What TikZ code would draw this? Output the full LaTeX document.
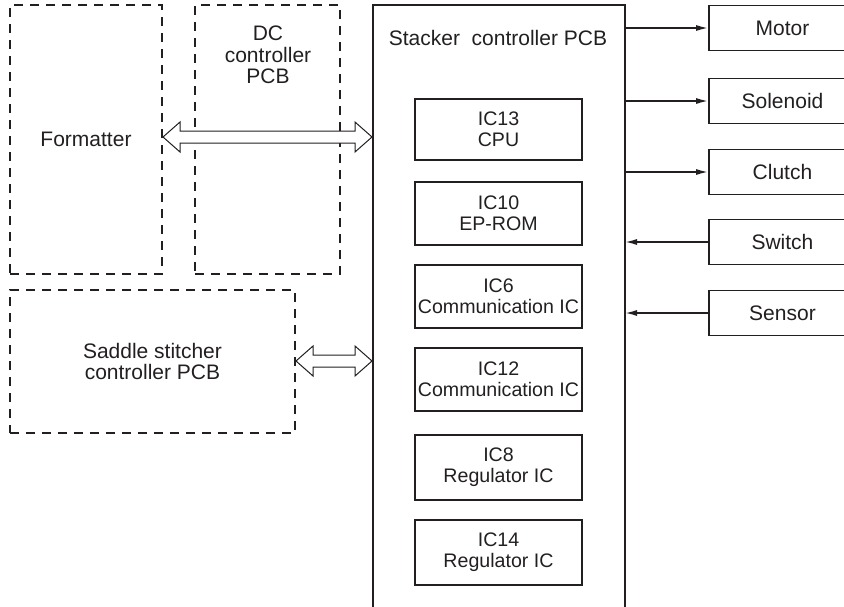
\documentclass[tikz,border=0pt]{standalone}
\usepackage{fontspec}
\setmainfont{Liberation Sans}
\usetikzlibrary{arrows.meta,calc}
\definecolor{ink}{HTML}{231F20}
\newcommand\twohead[2]{\draw[dbl] (#1) -- ++(17,-15) -- ++(0,9) -- ($(#2)+(-17,-6)$) -- ++(0,-9) -- (#2) -- ++(-17,15) -- ++(0,-9) -- ($(#1)+(17,6)$) -- ++(0,9) -- cycle;}
\begin{document}
\begin{tikzpicture}[x=1pt,y=-1pt,
 every node/.style={font=\fontsize{21}{21.5}\selectfont, text=ink, align=center},
 dbox/.style={draw=ink, line width=1.7pt, dash pattern=on 9pt off 7pt, inner sep=0, minimum width=#1},
 sbox/.style={draw=ink, line width=1.7pt, inner sep=0},
 icbox/.style={sbox, minimum width=167pt, minimum height=63pt, font=\fontsize{19.6}{21}\selectfont},
 devbox/.style={sbox, minimum width=147pt, minimum height=45pt},
 sig/.style={draw=ink, line width=1.6pt, -{Latex[length=12pt,width=6pt]}},
 dbl/.style={draw=ink, line width=1pt, fill=white}]
\clip (0,0) rectangle (844,606);
% dashed boxes
\node[dbox=152pt, minimum height=269pt] (fmt) at (86,139.5) {Formatter};
\node[dbox=145pt, minimum height=269pt] (dc) at (267.5,139.5) {};
\node (dct) at (268,55) {DC\\controller\\PCB};
\node[dbox=285pt, minimum height=143pt] (sad) at (152.5,361.5) {Saddle stitcher\\controller PCB};
% stacker
\draw[ink, line width=1.7pt] (373,5) rectangle (625,620);
\coordinate (stL) at (373,0);
\coordinate (stR) at (625,0);
\node (stt) at (498,38) {Stacker\ \ controller PCB};
% ICs
\node[icbox, minimum height=61pt] (ic13) at (498.5,129.5) {IC13\\CPU};
\node[icbox] (ic10) at (498.5,213.5) {IC10\\EP-ROM};
\node[icbox] (ic6) at (498.5,296.5) {IC6\\Communication IC};
\node[icbox] (ic12) at (498.5,379.5) {IC12\\Communication IC};
\node[icbox, minimum height=65pt] (ic8) at (498.5,467.5) {IC8\\Regulator IC};
\node[icbox, minimum height=65pt] (ic14) at (498.5,552.5) {IC14\\Regulator IC};
% devices
\node[devbox] (mot) at (782.5,28) {Motor};
\node[devbox] (sol) at (782.5,101) {Solenoid};
\node[devbox] (clu) at (782.5,172) {Clutch};
\node[devbox] (swi) at (782.5,242) {Switch};
\node[devbox] (sen) at (782.5,313) {Sensor};
\draw[sig] (stR |- mot.west) -- (mot.west);
\draw[sig] (stR |- sol.west) -- (sol.west);
\draw[sig] (stR |- clu.west) -- (clu.west);
\draw[sig] (swi.west) -- (stR |- swi.west);
\draw[sig] (sen.west) -- (stR |- sen.west);
% double arrows
\coordinate (a1) at (163,137);
\coordinate (b1) at (372,137);
\coordinate (a2) at (296,361);
\coordinate (b2) at (372,361);
\twohead{a1}{b1}
\twohead{a2}{b2}
\end{tikzpicture}
\end{document}
